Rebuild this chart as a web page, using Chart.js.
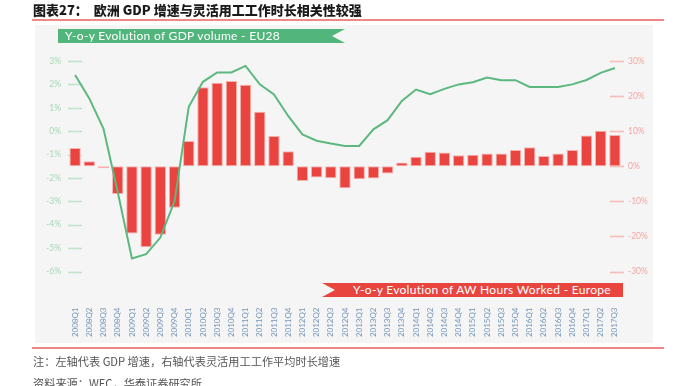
<!DOCTYPE html>
<html><head><meta charset="utf-8">
<script src="https://cdn.jsdelivr.net/npm/chart.js@4/dist/chart.umd.min.js"></script>
<style>
html,body{margin:0;padding:0;background:#fff;width:684px;height:386px;overflow:hidden;}
#bg{position:absolute;left:35px;top:25px;width:618px;height:318px;background:#f5f5f5;}
#wrap{position:absolute;left:0;top:0;width:684px;height:386px;}
.title{position:absolute;left:33px;top:1px;font-family:"Noto Sans CJK SC",sans-serif;font-weight:900;font-size:13px;color:#1a1a1a;white-space:pre;line-height:17px;}
.rule{position:absolute;left:32px;width:632px;height:2px;background:#ee8a83;}
.note{position:absolute;left:33px;font-family:"Noto Sans CJK SC",sans-serif;font-size:11.2px;color:#555;white-space:pre;line-height:14px;}
.ban{position:absolute;height:14px;color:#fff;font-family:Lato,"Open Sans",sans-serif;font-size:12px;line-height:14px;white-space:pre;letter-spacing:0.3px;}
#bg1{left:58px;top:29px;width:287px;background:#52b57b;clip-path:polygon(0 0,100% 0,274px 50%,100% 100%,0 100%);}
#bg1 span{position:absolute;left:7px;top:0;}
#bg2{left:322px;top:283px;width:301px;background:#e8453f;clip-path:polygon(0 0,100% 0,100% 100%,0 100%,13px 50%);}
#bg2 span{position:absolute;left:31px;top:0;}
</style></head>
<body>
<div id="bg"></div>
<div id="wrap"><canvas id="c" width="684" height="386"></canvas></div>
<div class="title">图表27：  欧洲 GDP 增速与灵活用工工作时长相关性较强</div>
<div class="rule" style="top:19px"></div>
<div class="ban" id="bg1"><span>Y-o-y Evolution of GDP volume - EU28</span></div>
<div class="ban" id="bg2"><span>Y-o-y Evolution of AW Hours Worked - Europe</span></div>
<div class="rule" style="top:347px"></div>
<div class="note" style="top:354px">注：左轴代表 GDP 增速，右轴代表灵活用工工作平均时长增速</div>
<div class="note" style="top:376px">资料来源：WEC，华泰证券研究所</div>
<script>
const categories = ["2008Q1","2008Q2","2008Q3","2008Q4","2009Q1","2009Q2","2009Q3","2009Q4",
"2010Q1","2010Q2","2010Q3","2010Q4","2011Q1","2011Q2","2011Q3","2011Q4",
"2012Q1","2012Q2","2012Q3","2012Q4","2013Q1","2013Q2","2013Q3","2013Q4",
"2014Q1","2014Q2","2014Q3","2014Q4","2015Q1","2015Q2","2015Q3","2015Q4",
"2016Q1","2016Q2","2016Q3","2016Q4","2017Q1","2017Q2","2017Q3"];
const gdpGrowth = [2.4, 1.4, 0.1, -2.6, -5.44, -5.26, -4.55, -3.0,
1.04, 2.11, 2.51, 2.51, 2.79, 2.0, 1.57, 0.65,
-0.14, -0.41, -0.53, -0.63, -0.63, 0.08, 0.47, 1.29,
1.78, 1.58, 1.81, 2.0, 2.09, 2.29, 2.18, 2.18,
1.89, 1.89, 1.89, 2.0, 2.19, 2.49, 2.7];
const hoursGrowth = [5.2, 1.4, -0.6, -7.9, -19.2, -23.1, -19.5, -11.8,
7.2, 22.5, 23.8, 24.3, 23.2, 15.5, 8.6, 4.3,
-4.2, -3.2, -3.4, -6.3, -3.7, -3.5, -2.1, 1.1,
2.7, 4.1, 3.9, 3.1, 3.3, 3.6, 3.6, 4.6,
5.4, 2.9, 3.6, 4.6, 8.8, 10.1, 8.9];
const leftTicks = [3,2,1,0,-1,-2,-3,-4,-5,-6];
const rightTicks = [30,20,10,0,-10,-20,-30];

const tickMarks = {
  id:'tickMarks',
  beforeDatasetsDraw(chart){
    const ctx = chart.ctx, a = chart.chartArea;
    ctx.save();
    ctx.lineWidth = 1.6;
    ctx.strokeStyle = '#bfe4cb';
    leftTicks.forEach(v=>{const y=Math.round(chart.scales.yL.getPixelForValue(v))+0.5;
      ctx.beginPath();ctx.moveTo(a.left,y);ctx.lineTo(a.left+14,y);ctx.stroke();});
    ctx.strokeStyle = '#f6bcb8';
    rightTicks.forEach(v=>{const y=Math.round(chart.scales.yR.getPixelForValue(v))+0.5;
      ctx.beginPath();ctx.moveTo(a.right-12,y);ctx.lineTo(a.right+2,y);ctx.stroke();});
    ctx.restore();
  }
};

new Chart(document.getElementById('c'), {
  data: {
    labels: categories,
    datasets: [
      {type:'line', label:'GDP', data:gdpGrowth, yAxisID:'yL', borderColor:'#5cb87e', borderWidth:2,
       pointRadius:0, tension:0, fill:false, order:0},
      {type:'bar', label:'Hours', data:hoursGrowth, yAxisID:'yR', backgroundColor:'#e9443f',
       borderColor:'#f5b2ae', borderWidth:1, borderSkipped:false, barPercentage:0.8, categoryPercentage:1, order:1}
    ]
  },
  options: {
    responsive:false, animation:false,
    layout:{padding:{top:61,left:0,right:0,bottom:0}},
    plugins:{legend:{display:false}, tooltip:{enabled:false}},
    scales:{
      x:{offset:true, grid:{display:false, drawTicks:false}, border:{display:false},
         afterFit(s){s.height=114.5;},
         ticks:{autoSkip:false, minRotation:90, maxRotation:90, padding:36, color:'#7596bb',
                font:{family:'Lato', size:8}}},
      yL:{position:'left', min:-6, max:3, grid:{display:false, drawTicks:false}, border:{display:false},
          afterFit(s){s.width=68;},
          afterBuildTicks(s){s.ticks = leftTicks.map(v=>({value:v}));},
          ticks:{padding:7, color:'#a6d8b5', font:{family:'Lato', size:8.5}, callback:v=>v+'%'}},
      yR:{position:'right', min:-30, max:30, grid:{display:false, drawTicks:false}, border:{display:false},
          afterFit(s){s.width=62;},
          afterBuildTicks(s){s.ticks = rightTicks.map(v=>({value:v}));},
          ticks:{padding:6, color:'#f2a7a2', font:{family:'Lato', size:8.5}, callback:v=>v+'%'}}
    }
  },
  plugins:[tickMarks]
});
</script>
</body></html>
